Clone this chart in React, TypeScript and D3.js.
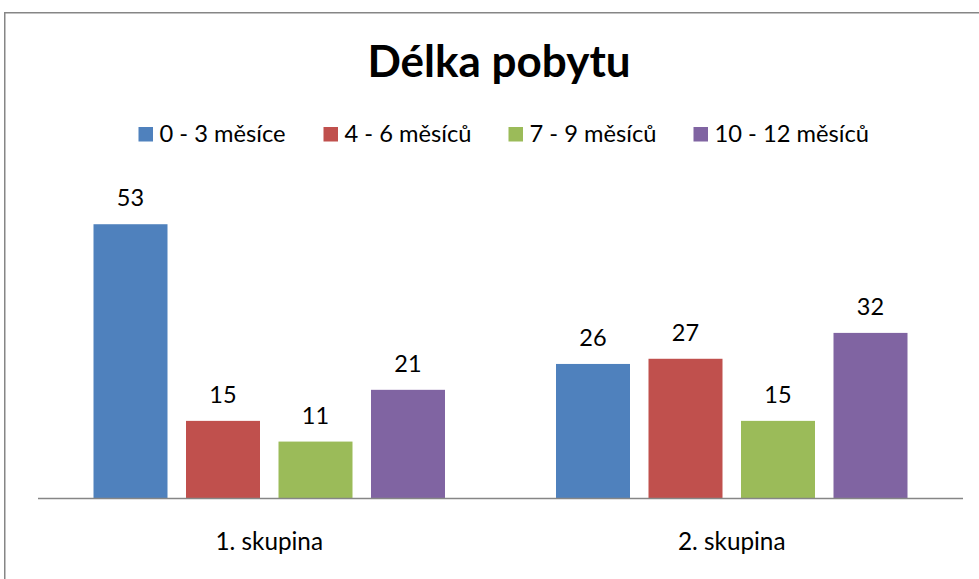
import React from "react";
import * as d3 from "d3";

const categories = ["1. skupina", "2. skupina"];
const seriesNames = ["0 - 3 měsíce", "4 - 6 měsíců", "7 - 9 měsíců", "10 - 12 měsíců"];
const seriesColors = ["#4F81BD", "#C0504D", "#9BBB59", "#8064A2"];
const values0to3 = [53, 26];
const values4to6 = [15, 27];
const values7to9 = [11, 15];
const values10to12 = [21, 32];
const seriesValues = [values0to3, values4to6, values7to9, values10to12];
const title = "Délka pobytu";

const W = 979;
const H = 579;
const FONT = "Lato, 'Open Sans', sans-serif";

export default function App() {
  const plotLeft = 38;
  const plotRight = 963;
  const baseY = 498.5;
  const topY = 188;

  const x0 = d3.scaleBand<string>().domain(categories).range([plotLeft, plotRight]).paddingInner(0).paddingOuter(0);
  const x1 = d3
    .scaleBand<string>()
    .domain(seriesNames)
    .range([0, x0.bandwidth()])
    .paddingInner(0.2)
    .paddingOuter(0.6);
  const y = d3.scaleLinear().domain([0, 60]).range([baseY, topY]);

  const legendStep = 185;
  const legendStart = 138.5;
  const legendY = 127;
  const sq = 14.5;

  return (
    <svg
      width={W}
      height={H}
      style={{ position: "absolute", left: 0, top: 0, background: "#fff" }}
      fontFamily={FONT}
    >
      <rect x={0} y={0} width={W} height={H} fill="#fff" />
      <rect x={4.75} y={12.75} width={W + 20} height={H + 20} fill="none" stroke="#868686" strokeWidth={1.5} />
      <text x={499} y={77} textAnchor="middle" fontSize={44} fontWeight={700} fill="#000">
        {title}
      </text>
      {seriesNames.map((name, i) => (
        <g key={name} transform={`translate(${legendStart + i * legendStep},${legendY})`}>
          <rect x={0} y={0} width={sq} height={sq} fill={seriesColors[i]} />
          <text x={sq + 6.5} y={sq + 0.5} fontSize={23.7} fill="#000">
            {name}
          </text>
        </g>
      ))}
      {categories.map((cat, ci) => (
        <g key={cat} transform={`translate(${x0(cat)},0)`}>
          {seriesNames.map((s, si) => {
            const v = seriesValues[si][ci];
            const bx = x1(s) as number;
            return (
              <g key={s}>
                <rect x={bx} y={y(v)} width={x1.bandwidth()} height={baseY - y(v)} fill={seriesColors[si]} />
                <text x={bx + x1.bandwidth() / 2} y={y(v) - 18} textAnchor="middle" fontSize={23.5} fill="#000">
                  {v}
                </text>
              </g>
            );
          })}
          <text x={x0.bandwidth() / 2} y={550} textAnchor="middle" fontSize={24.3} fill="#000">
            {cat}
          </text>
        </g>
      ))}
      <line x1={plotLeft} x2={plotRight} y1={baseY} y2={baseY} stroke="#868686" strokeWidth={1.5} />
    </svg>
  );
}
